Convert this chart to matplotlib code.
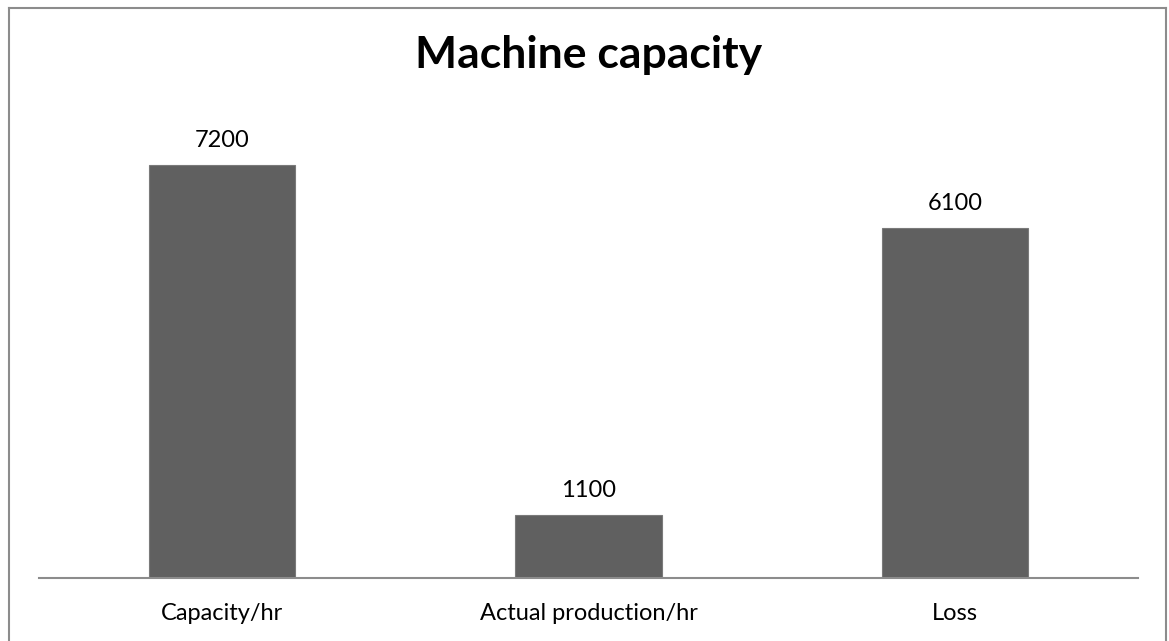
import matplotlib.pyplot as plt
from matplotlib.lines import Line2D

plt.rcParams["font.family"] = ["Lato", "DejaVu Sans"]

categories = ["Capacity/hr", "Actual production/hr", "Loss"]
values = [7200, 1100, 6100]

W, H = 1169, 641
fig = plt.figure(figsize=(W / 100, H / 100), dpi=100)

# plot area in pixel coords of the reference
x0, x1, yb, yt = 39, 1138, 578, 119
ax = fig.add_axes([x0 / W, (H - yb) / H, (x1 - x0) / W, (yb - yt) / H])

bars = ax.bar(range(len(values)), values, width=0.4, color="#606060",
              edgecolor="#7a7a7a", linewidth=0.8)
ax.set_xlim(-0.5, len(values) - 0.5)
ax.set_ylim(0, 8000)

for b, v in zip(bars, values):
    ax.annotate(str(v), (b.get_x() + b.get_width() / 2, v), xytext=(0, 13),
                textcoords="offset points", ha="center", va="baseline",
                fontsize=17, color="#000000")

ax.set_xticks(range(len(values)))
ax.set_xticklabels(categories, fontsize=17)
ax.tick_params(axis="x", length=0, pad=18)
ax.set_yticks([])
for s in ["top", "right", "left"]:
    ax.spines[s].set_visible(False)
ax.spines["bottom"].set_color("#8c8c8c")
ax.spines["bottom"].set_linewidth(1.5)

fig.text(589 / W, 1 - 68 / H, "Machine capacity", ha="center", va="baseline",
         fontsize=32, fontweight="bold")

# chart border (left, top, right)
bx0, bx1, by = 8.5 / W, 1166 / W, 1 - 8 / H
for xs, ys in [([bx0, bx0], [0, by]), ([bx0, bx1], [by, by]), ([bx1, bx1], [by, 0])]:
    fig.add_artist(Line2D(xs, ys, color="#8c8c8c", linewidth=1.5,
                          transform=fig.transFigure))

fig.savefig("out.png", dpi=100)
